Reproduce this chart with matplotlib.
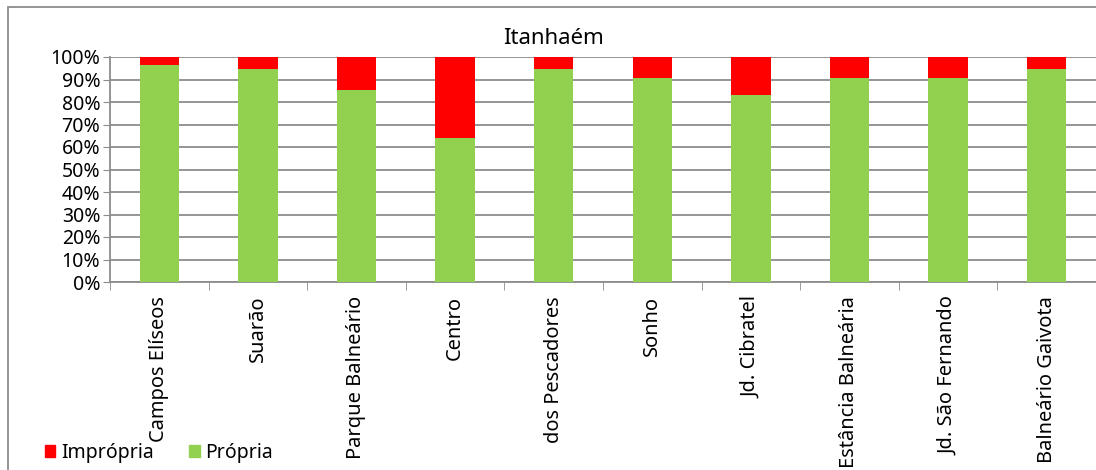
import numpy as np
import matplotlib
matplotlib.use("Agg")
import matplotlib.pyplot as plt
from matplotlib.patches import Rectangle, Patch
from matplotlib.ticker import PercentFormatter

plt.rcParams['font.family'] = ['Noto Sans', 'DejaVu Sans']

bairros = ["Campos Elíseos", "Suarão", "Parque Balneário", "Centro", "dos Pescadores",
           "Sonho", "Jd. Cibratel", "Estância Balneária", "Jd. São Fernando", "Balneário Gaivota"]
propria = [96.3, 94.5, 85.2, 64.1, 94.5, 90.5, 83.1, 90.5, 90.5, 94.5]
impropria = [100 - p for p in propria]

fig = plt.figure(figsize=(10.96, 4.70), dpi=100)
ax = fig.add_axes([110 / 1096, 188 / 470, 986 / 1096, 225 / 470])

x = np.arange(len(bairros))
ax.bar(x, propria, width=0.4, color="#92D050", zorder=3)
ax.bar(x, impropria, width=0.4, bottom=propria, color="#FF0000", zorder=3)

ax.set_xlim(-0.5, len(bairros) - 0.5)
ax.set_ylim(0, 100)
ax.set_yticks(np.arange(0, 101, 10))
ax.yaxis.set_major_formatter(PercentFormatter(decimals=0))
ax.yaxis.grid(True, color="#8c8c8c", linewidth=1.3, zorder=0)
ax.tick_params(axis="y", labelsize=14, length=5, color="#8c8c8c", pad=2)

ax.set_xticks(x)
ax.set_xticklabels(bairros, rotation=90, fontsize=14.4, va="top")
ax.set_xticks(np.arange(-0.5, len(bairros), 1), minor=True)
ax.tick_params(axis="x", which="major", length=0, pad=10)
ax.tick_params(axis="x", which="minor", length=6, color="#8c8c8c")

for side in ["top", "right"]:
    ax.spines[side].set_visible(False)
for side in ["left", "bottom"]:
    ax.spines[side].set_color("#8c8c8c")
    ax.spines[side].set_linewidth(1.3)

fig.text(554 / 1096, 1 - 38 / 470, "Itanhaém", fontsize=16, ha="center", va="center")

# borda externa do gráfico
fig.patches.append(Rectangle((8 / 1096, -0.1), 1.2, 1 - 7 / 470 + 0.1, transform=fig.transFigure,
                             fill=False, edgecolor="#8c8c8c", linewidth=1.3))

handles = [Patch(color="#FF0000", label="Imprópria"), Patch(color="#92D050", label="Própria")]
fig.legend(handles=handles, loc="center left", bbox_to_anchor=(35 / 1096, 1 - 453 / 470),
           ncol=2, frameon=False, fontsize=14, handlelength=0.55, handleheight=0.55,
           handletextpad=0.3, columnspacing=1.8, borderpad=0)

fig.savefig("out.png", dpi=100)
